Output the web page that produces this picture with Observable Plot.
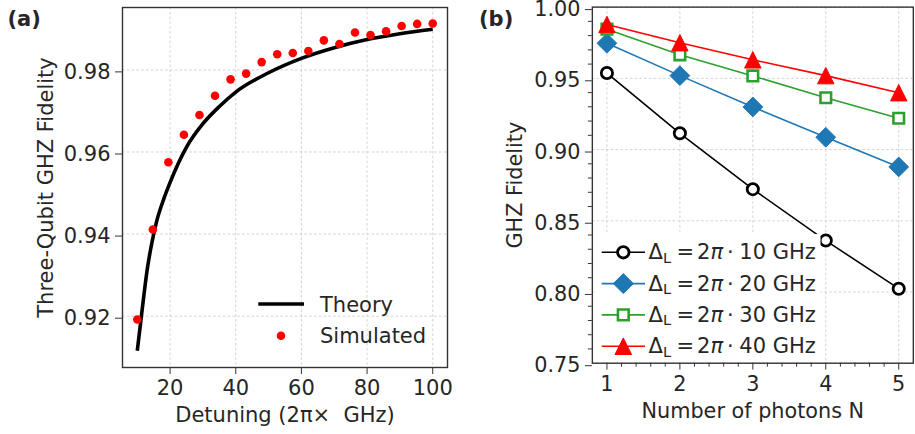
<!DOCTYPE html>
<html>
<head>
<meta charset="utf-8">
<script src="https://cdn.jsdelivr.net/npm/d3@7"></script>
<script src="https://cdn.jsdelivr.net/npm/@observablehq/plot@0.6"></script>
<style>
  html, body { margin: 0; padding: 0; background: #fff; }
  #wrap { position: relative; width: 915px; height: 434px; overflow: hidden; background: #fff; font-family: "DejaVu Sans", sans-serif; }
  #wrap > .panel { position: absolute; top: 0; }
  #overlay { position: absolute; left: 0; top: 0; pointer-events: none; }
</style>
</head>
<body>
<div id="wrap">
  <div class="panel" id="pa" style="left:0px"></div>
  <div class="panel" id="pb" style="left:460px"></div>
  <svg id="overlay" width="915" height="434" font-family="DejaVu Sans" fill="#262626"></svg>
</div>
<script>
// ---------- Panel (a) data ----------
const theoryDetuning = [10, 11, 12, 13, 14, 15, 16, 18, 20, 25, 30, 35, 40, 50, 60, 70, 80, 90, 100];
const theoryFidelity = [0.9116, 0.9183, 0.9250, 0.9312, 0.9360, 0.9400, 0.9434, 0.9484, 0.9526, 0.9612, 0.9669, 0.9711, 0.9746, 0.9793, 0.9828, 0.9854, 0.9874, 0.9888, 0.9899];
const simDetuning = [10, 14.74, 19.47, 24.21, 28.95, 33.68, 38.42, 43.16, 47.89, 52.63, 57.37, 62.11, 66.84, 71.58, 76.32, 81.05, 85.79, 90.53, 95.26, 100];
const simFidelity = [0.9192, 0.9411, 0.9575, 0.9642, 0.9690, 0.9737, 0.9777, 0.9791, 0.9819, 0.9838, 0.9841, 0.9846, 0.9872, 0.9863, 0.9891, 0.9885, 0.9894, 0.9907, 0.9912, 0.9913];
const xTicksA = [20, 40, 60, 80, 100];
const yTicksA = [0.92, 0.94, 0.96, 0.98];
const legendA = ["Theory", "Simulated"];

// ---------- Panel (b) data ----------
const photons = [1, 2, 3, 4, 5];
const fid10GHz = [0.9537, 0.9114, 0.8722, 0.8361, 0.8023];
const fid20GHz = [0.9746, 0.9519, 0.9299, 0.9086, 0.8878];
const fid30GHz = [0.9845, 0.9665, 0.9517, 0.9364, 0.9220];
const fid40GHz = [0.9878, 0.9750, 0.9630, 0.9519, 0.9399];
const detuningLabels = ["10", "20", "30", "40"];
const xTicksB = [1, 2, 3, 4, 5];
const yTicksB = [0.75, 0.80, 0.85, 0.90, 0.95, 1.00];

// ---------- helpers ----------
const FONT = "DejaVu Sans";
const TXT = "#262626";
const SPINE = "#333333";
const GRID = { stroke: "#c8c8c8", strokeOpacity: 1, strokeWidth: 0.8, strokeDasharray: "2.6,2.2" };

const symTriangle = { draw(c, size) { const r = Math.sqrt(size / Math.PI); c.moveTo(0, -r); c.lineTo(r, r); c.lineTo(-r, r); c.closePath(); } };
const symDiamond = { draw(c, size) { const r = Math.sqrt(size / Math.PI); c.moveTo(0, -r); c.lineTo(r, 0); c.lineTo(0, r); c.lineTo(-r, 0); c.closePath(); } };
const symSquare = { draw(c, size) { const r = Math.sqrt(size / Math.PI); c.moveTo(-r, -r); c.lineTo(r, -r); c.lineTo(r, r); c.lineTo(-r, r); c.closePath(); } };

const theory = theoryDetuning.map((d, i) => ({ d, f: theoryFidelity[i] }));
const sim = simDetuning.map((d, i) => ({ d, f: simFidelity[i] }));

const seriesB = [
  { key: detuningLabels[0], vals: fid10GHz, color: "#000000", symbol: "circle", r: 5.7, fill: "#ffffff", sw: 2.8 },
  { key: detuningLabels[1], vals: fid20GHz, color: "#1f77b4", symbol: symDiamond, r: 10, fill: "#1f77b4", sw: 1 },
  { key: detuningLabels[2], vals: fid30GHz, color: "#2ca02c", symbol: symSquare, r: 5.35, fill: "#ffffff", sw: 2.6 },
  { key: detuningLabels[3], vals: fid40GHz, color: "#ff0000", symbol: symTriangle, r: 8.3, fill: "#ff0000", sw: 1 }
];
const rowsB = seriesB.map(s => photons.map((n, i) => ({ n, f: s.vals[i] })));

const styleCommon = { fontFamily: FONT, fontSize: "21px", color: TXT, background: "transparent", overflow: "visible" };

// ---------- Panel (a) ----------
const plotA = Plot.plot({
  width: 460, height: 434,
  marginLeft: 122, marginRight: 13, marginTop: 7, marginBottom: 67,
  style: styleCommon,
  x: { domain: [5.5, 104.5] },
  y: { domain: [0.9075, 0.9952] },
  marks: [
    Plot.gridX(xTicksA, GRID),
    Plot.gridY(yTicksA, GRID),
    Plot.line(theory, { x: "d", y: "f", stroke: "#000", strokeWidth: 3.6, curve: "monotone-x", strokeLinecap: "butt" }),
    Plot.dot(sim, { x: "d", y: "f", r: 4.3, fill: "#ff0000", stroke: null }),
    Plot.frame({ stroke: SPINE, strokeWidth: 1.4 }),
    Plot.axisX(xTicksA, { tickSize: 7, tickPadding: 6, stroke: SPINE, fill: TXT, fontSize: 21, label: null }),
    Plot.axisY(yTicksA, { tickSize: 7, tickPadding: 5, stroke: SPINE, fill: TXT, fontSize: 21, dy: 2, tickFormat: d3.format(".2f"), label: null }),
    Plot.text(["Three-Qubit GHZ Fidelity"], { frameAnchor: "left", dx: -76.7, rotate: -90, textAnchor: "middle", lineAnchor: "middle", fontSize: 21, fill: TXT }),
    Plot.text(["Detuning (2π×  GHz)"], { frameAnchor: "bottom", dy: 47.3, textAnchor: "middle", lineAnchor: "middle", fontSize: 21, fill: TXT })
  ]
});
document.getElementById("pa").appendChild(plotA);

// ---------- Panel (b) ----------
const minorX = d3.range(1.2, 5.0, 0.2).filter(v => Math.abs(v - Math.round(v)) > 1e-6);
const minorY = d3.range(76, 100, 1).filter(v => v % 5 !== 0).map(v => v / 100);

const marksB = [
  Plot.gridX(xTicksB, GRID),
  Plot.gridY(yTicksB, GRID)
];
seriesB.forEach((s, k) => {
  marksB.push(Plot.line(rowsB[k], { x: "n", y: "f", stroke: s.color, strokeWidth: 1.6 }));
  marksB.push(Plot.dot(rowsB[k], { x: "n", y: "f", symbol: s.symbol, r: s.r, fill: s.fill, stroke: s.color, strokeWidth: s.sw }));
});
marksB.push(
  Plot.frame({ stroke: SPINE, strokeWidth: 1.4 }),
  Plot.axisX(xTicksB, { tickSize: 7, tickPadding: 6, stroke: SPINE, fill: TXT, fontSize: 21, label: null }),
  Plot.axisX(minorX, { tickSize: 4, stroke: SPINE, tickFormat: () => "", label: null }),
  Plot.axisY(yTicksB, { tickSize: 7, tickPadding: 5, stroke: SPINE, fill: TXT, fontSize: 21, dy: 2.5, tickFormat: d3.format(".2f"), label: null }),
  Plot.axisY(minorY, { tickSize: 4, stroke: SPINE, tickFormat: () => "", label: null }),
  Plot.text(["GHZ Fidelity"], { frameAnchor: "left", dx: -78, rotate: -90, textAnchor: "middle", lineAnchor: "middle", fontSize: 21, fill: TXT }),
  Plot.text(["Number of photons N"], { frameAnchor: "bottom", dy: 48.3, textAnchor: "middle", lineAnchor: "middle", fontSize: 21, fill: TXT })
);
const plotB = Plot.plot({
  width: 460, height: 434,
  marginLeft: 133.3, marginRight: 2.2, marginTop: 6.7, marginBottom: 67.3,
  style: styleCommon,
  x: { domain: [0.8, 5.2] },
  y: { domain: [0.75, 1.0] },
  marks: marksB
});
document.getElementById("pb").appendChild(plotB);

// ---------- overlay: panel labels and legends ----------
const ov = d3.select("#overlay");
ov.append("text").attr("x", 7.5).attr("y", 25.5).attr("font-size", 21).attr("font-weight", "bold").text("(a)");
ov.append("text").attr("x", 479).attr("y", 25.5).attr("font-size", 21).attr("font-weight", "bold").text("(b)");

// legend (a) – transparent
ov.append("line").attr("x1", 258.3).attr("x2", 304).attr("y1", 304).attr("y2", 304).attr("stroke", "#000").attr("stroke-width", 3.6);
ov.append("circle").attr("cx", 281).attr("cy", 335.7).attr("r", 4.3).attr("fill", "#ff0000");
ov.append("text").attr("x", 320).attr("y", 311.5).attr("font-size", 21).text(legendA[0]);
ov.append("text").attr("x", 320).attr("y", 343).attr("font-size", 21).text(legendA[1]);

// legend (b) – white background
ov.append("rect").attr("x", 596.5).attr("y", 234).attr("width", 224).attr("height", 128).attr("fill", "#fff");
const symPath = (sym, r) => { const p = d3.path(); sym.draw(p, Math.PI * r * r); return p.toString(); };
seriesB.forEach((s, k) => {
  const cy = 252.3 + k * 31.3;
  ov.append("line").attr("x1", 601.7).attr("x2", 645).attr("y1", cy).attr("y2", cy).attr("stroke", s.color).attr("stroke-width", 1.6);
  const g = ov.append("g").attr("transform", `translate(623.3,${cy})`);
  if (s.symbol === "circle") {
    g.append("circle").attr("r", s.r).attr("fill", s.fill).attr("stroke", s.color).attr("stroke-width", s.sw);
  } else {
    g.append("path").attr("d", symPath(s.symbol, s.r)).attr("fill", s.fill).attr("stroke", s.color).attr("stroke-width", s.sw);
  }
  const base = 259.3 + k * 31.3;
  const t = ov.append("text").attr("x", 648.5).attr("y", base).attr("font-size", 21);
  t.append("tspan").text("Δ");
  t.append("tspan").attr("dy", 3.5).attr("font-size", 14.5).text("L");
  t.append("tspan").attr("dx", 5.5).attr("dy", -3.5).text("=");
  t.append("tspan").attr("dx", 3).text("2");
  t.append("tspan").attr("font-style", "italic").text("π");
  t.append("tspan").attr("dx", 4).text("·");
  t.append("tspan").attr("dx", 5.5).text(s.key + " GHz");
});
</script>
</body>
</html>
